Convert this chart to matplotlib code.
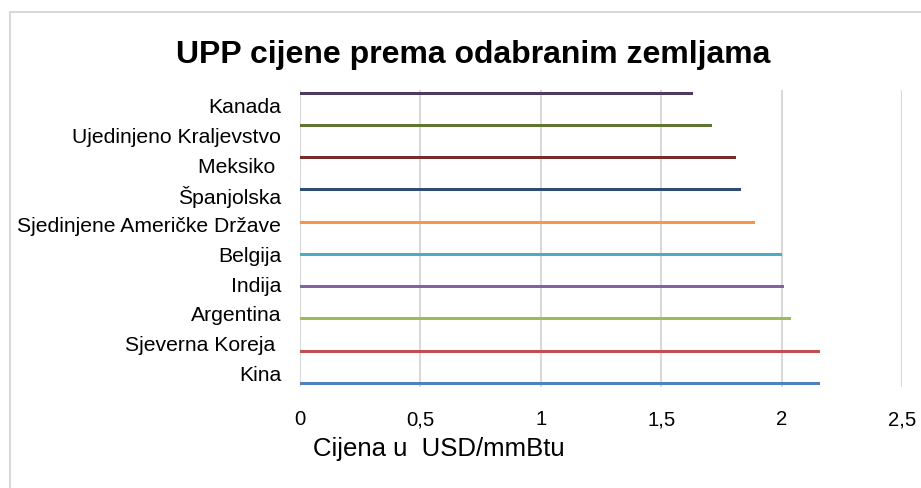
import matplotlib
matplotlib.use("Agg")
import matplotlib.pyplot as plt
from matplotlib.patches import Rectangle

plt.rcParams['font.family'] = ['Liberation Sans', 'DejaVu Sans']

categories = ["Kanada", "Ujedinjeno Kraljevstvo", "Meksiko ", "Španjolska",
              "Sjedinjene Američke Države", "Belgija", "Indija", "Argentina",
              "Sjeverna Koreja ", "Kina"]
values = [1.63, 1.71, 1.81, 1.83, 1.89, 2.00, 2.01, 2.04, 2.16, 2.16]
colors = ["#4D3B62", "#5F7530", "#772C2A", "#2C4D75", "#F79646",
          "#4BACC6", "#8064A2", "#9BBB59", "#C0504D", "#4F81BD"]
xticks = [0, 0.5, 1, 1.5, 2, 2.5]
xtick_labels = ["0", "0,5", "1", "1,5", "2", "2,5"]
title = "UPP cijene prema odabranim zemljama"
xlabel = "Cijena u  USD/mmBtu"

W, H = 921, 489
fig = plt.figure(figsize=(W / 100, H / 100), dpi=100)
fig.patch.set_facecolor("white")

# outer chart border
fig.patches.append(Rectangle((9.5 / W, -0.1), 1.2, 1 - 13 / H + 0.1,
                             transform=fig.transFigure, fill=False,
                             edgecolor="#D9D9D9", linewidth=1.5))

ax = fig.add_axes([300 / W, 1 - 388 / H, (902 - 300) / W, (388 - 91) / H])
n = len(categories)
label_pos = [i + 0.5 for i in range(n)]
bar_pos = [0.11 + i * (9.765 / (n - 1)) for i in range(n)]

ax.barh(bar_pos, values, height=0.1, color=colors, zorder=3)
ax.set_xlim(0, 2.5)
ax.set_ylim(n, 0)
ax.set_xticks(xticks)
ax.set_xticklabels(xtick_labels, fontsize=14.6)
ax.set_yticks(label_pos)
ax.set_yticklabels(categories, fontsize=15.2)
ax.tick_params(axis="both", length=0)
ax.tick_params(axis="y", pad=13.5)
ax.tick_params(axis="x", pad=16)
ax.grid(axis="x", color="#D9D9D9", linewidth=1.5, zorder=0)
for s in ax.spines.values():
    s.set_visible(False)

fig.text(473 / W, 1 - 55 / H, title, ha="center", va="center",
         fontsize=23, fontweight="bold")
fig.text(439 / W, 1 - 449 / H, xlabel, ha="center", va="center", fontsize=18.5)

fig.savefig("out.png", dpi=100, facecolor="white")
